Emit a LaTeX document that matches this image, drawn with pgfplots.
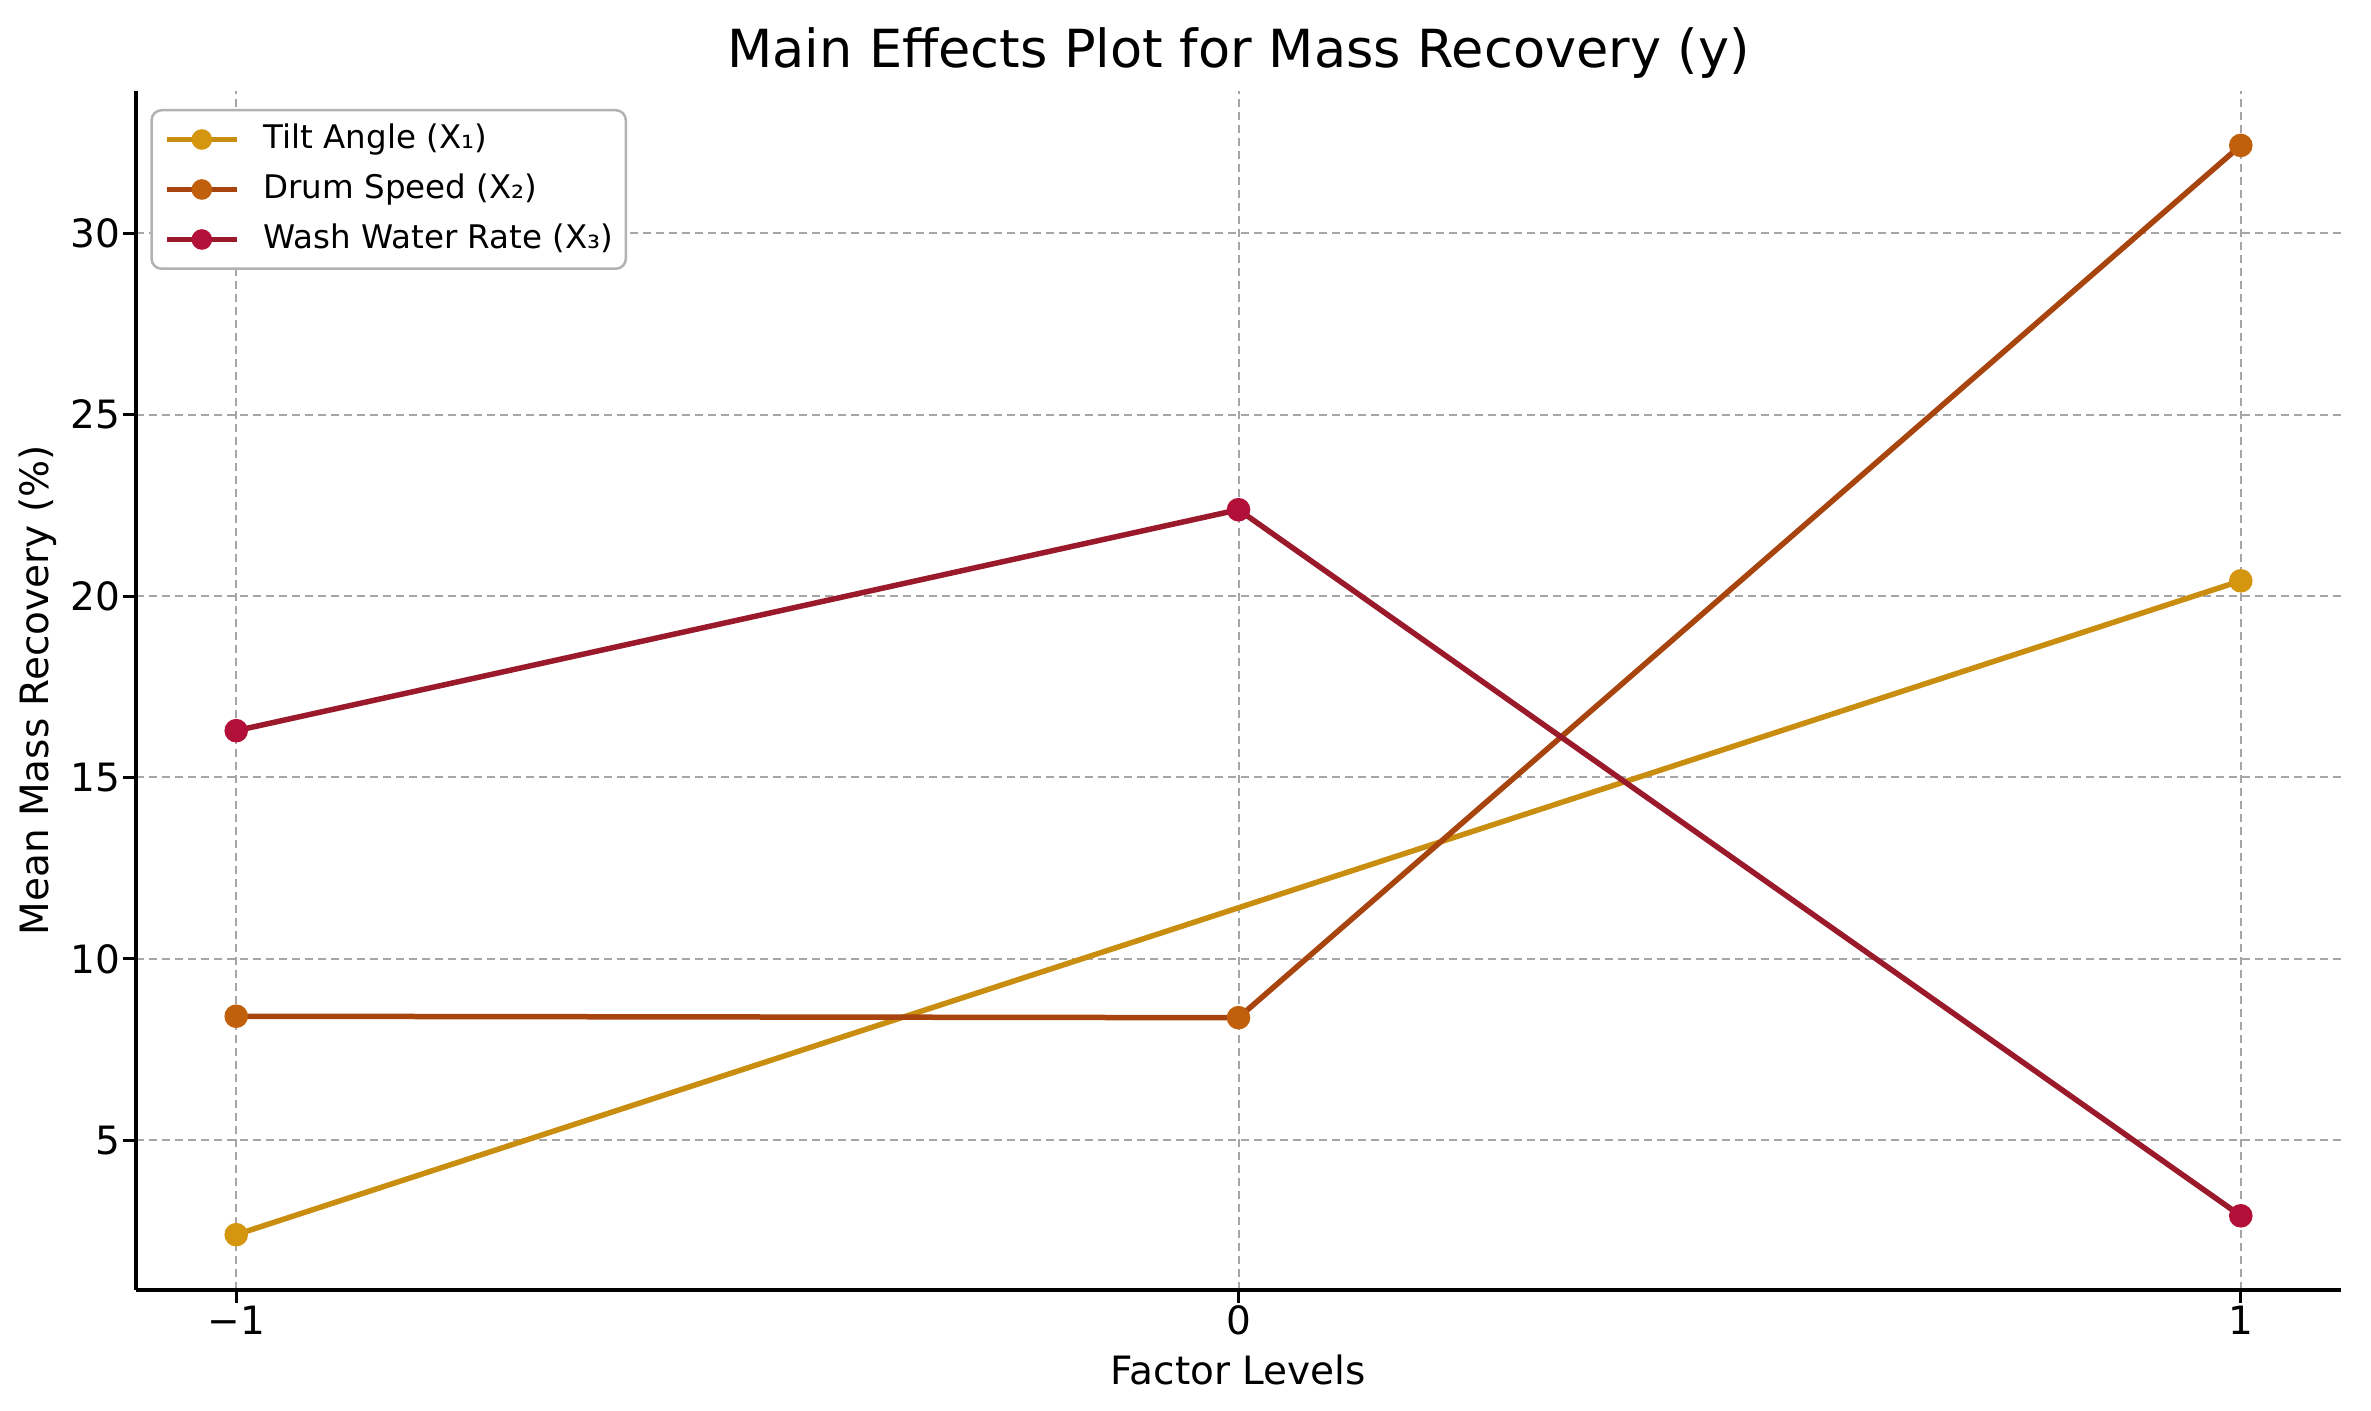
\documentclass[border=0pt]{standalone}
\usepackage{fontspec}
\setmainfont{DejaVu Sans}
\usepackage{pgfplots}
\pgfplotsset{compat=1.18}
\definecolor{tiltl}{HTML}{C98D10}
\definecolor{tiltm}{HTML}{D4960F}
\definecolor{druml}{HTML}{A8440E}
\definecolor{drumm}{HTML}{C0600C}
\definecolor{washl}{HTML}{9A1A2C}
\definecolor{washm}{HTML}{B21038}
\begin{document}
\begin{tikzpicture}
\begin{axis}[
  name=ax,
  width=441bp, height=239.8bp, scale only axis,
  xmin=-1.1, xmax=1.1, ymin=0.875, ymax=33.92,
  axis x line*=bottom, axis y line*=left,
  axis line style={line width=0.8bp, black},
  xtick={-1,0,1}, xticklabels={−1,0,1},
  ytick={5,10,15,20,25,30}, yticklabels={5,10,15,20,25,30},
  tick align=outside, major tick length=2.5bp,
  tick style={line width=0.6bp, black},
  ticklabel style={font=\fontsize{7.8bp}{9bp}\selectfont},
  yticklabel style={inner sep=0.5bp},
  xticklabel style={inner sep=0.5bp},
  grid=major,
  major grid style={draw=gray!70, dash pattern=on 1.6bp off 1bp, line width=0.4bp},
  title={Main Effects Plot for Mass Recovery (y)},
  every axis title/.style={at={(axis description cs:0.5,1.0317)}, anchor=center, font=\fontsize{10.5bp}{12bp}\selectfont},
  xlabel={Factor Levels},
  every axis x label/.style={at={(axis description cs:0.5,-0.0667)}, anchor=center, font=\fontsize{7.8bp}{9bp}\selectfont},
  ylabel={Mean Mass Recovery (\%)},
  every axis y label/.style={at={(axis description cs:-0.0447,0.5)}, rotate=90, anchor=center, font=\fontsize{7.8bp}{9bp}\selectfont},
  legend image code/.code={\draw[mark repeat=2, mark phase=2, #1, mark size=1.5bp] plot coordinates {(0bp,0bp) (7bp,0bp) (14bp,0bp)};},
  legend cell align=left,
  legend style={at={(axis description cs:0.0065,0.985)}, anchor=north west,
    draw=gray!60, rounded corners=2bp, line width=0.5bp,
    font=\fontsize{6.5bp}{7.8bp}\selectfont,
    inner xsep=2.5bp, inner ysep=2.6bp,
    column sep=4.8bp, row sep=3.5bp,
    nodes={inner sep=0pt, text height=5bp, text depth=1.5bp}},
]
\addplot[tiltl, line width=1.1bp, mark=*, mark size=1.8bp, mark options={draw=tiltm, fill=tiltm}] coordinates {(-1,2.4) (1,20.42)};
\addlegendentry{Tilt Angle (X₁)}
\addplot[druml, line width=1.1bp, mark=*, mark size=1.8bp, mark options={draw=drumm, fill=drumm}] coordinates {(-1,8.42) (0,8.38) (1,32.42)};
\addlegendentry{Drum Speed (X₂)}
\addplot[washl, line width=1.1bp, mark=*, mark size=1.8bp, mark options={draw=washm, fill=washm}] coordinates {(-1,16.29) (0,22.38) (1,2.92)};
\addlegendentry{Wash Water Rate (X₃)}
\end{axis}
\pgfresetboundingbox
\path ([xshift=-27.2bp,yshift=-24.2bp]ax.south west) rectangle ([xshift=447bp,yshift=258bp]ax.south west);
\end{tikzpicture}
\end{document}
